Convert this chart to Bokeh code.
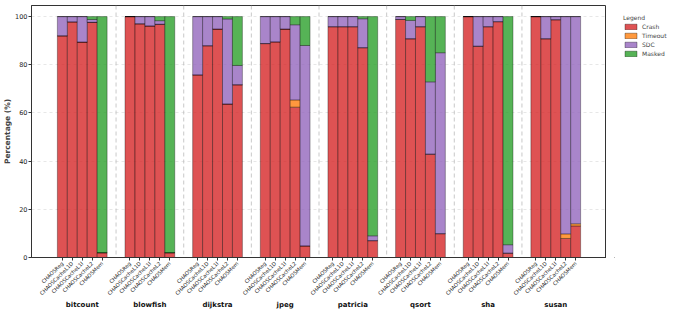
import math
from bokeh.plotting import figure
from bokeh.layouts import row
from bokeh.models import (ColumnDataSource, FixedTicker, LinearAxis, Range1d,
                          Span, Legend, LegendItem)
from bokeh.embed import file_html
from bokeh.resources import INLINE

benchmarks = ["bitcount", "blowfish", "dijkstra", "jpeg", "patricia", "qsort", "sha", "susan"]
configs = ["CHAOSReg", "CHAOSCacheL1D", "CHAOSCacheL1I", "CHAOSCacheL2", "CHAOSMem"]
outcomes = ["Crash", "Timeout", "SDC", "Masked"]

# values per benchmark (5 configs each), in percent
crash = [
    92.0, 97.8, 89.4, 97.6, 2.0,     # bitcount
    100.0, 97.0, 96.1, 96.8, 2.0,    # blowfish
    75.8, 87.9, 94.8, 63.7, 71.7,    # dijkstra
    88.8, 89.5, 94.8, 62.4, 4.8,     # jpeg
    95.8, 95.8, 95.8, 87.1, 7.0,     # patricia
    98.8, 90.8, 95.8, 42.9, 9.9,     # qsort
    100.0, 87.7, 95.8, 97.9, 1.8,    # sha
    100.0, 90.8, 98.7, 7.9, 13.1,    # susan
]
timeout = [
    0, 0, 0, 0, 0,
    0, 0, 0, 0, 0,
    0, 0, 0, 0, 0,
    0, 0, 0, 3.0, 0,
    0, 0, 0, 0, 0,
    0, 0, 0, 0, 0,
    0, 0, 0, 0, 0,
    0, 0, 0, 1.9, 0.9,
]
sdc = [
    8.0, 2.2, 10.6, 1.2, 0,
    0, 3.0, 3.9, 1.5, 0,
    24.2, 12.1, 5.2, 35.3, 8.0,
    11.2, 10.5, 5.2, 31.2, 83.2,
    4.2, 4.2, 4.2, 12.0, 2.0,
    1.2, 7.6, 4.2, 30.0, 75.1,
    0, 12.3, 4.2, 2.1, 3.5,
    0, 9.2, 1.3, 90.2, 86.0,
]
masked = [
    0, 0, 0, 1.2, 98.0,
    0, 0, 0, 1.7, 98.0,
    0, 0, 0, 1.0, 20.3,
    0, 0, 0, 3.4, 12.0,
    0, 0, 0, 0.9, 91.0,
    0, 1.6, 0, 27.1, 15.0,
    0, 0, 0, 0, 94.7,
    0, 0, 0, 0, 0,
]

colors = ["#d62728", "#ff7f0e", "#9467bd", "#2ca02c"]

# layout constants (x units == pixels of the frame)
BAR_W = 10
GAP = 18
PAD = 26
GROUP_W = BAR_W * len(configs) + GAP
FONT = "DejaVu Sans"
MAIN_W = 606
LEG_W = 64
H = 311

xs, labels = [], []
for g, b in enumerate(benchmarks):
    for j, c in enumerate(configs):
        xs.append(PAD + g * GROUP_W + j * BAR_W + BAR_W // 2)
        labels.append(c)
group_centers = [PAD + g * GROUP_W + (BAR_W * len(configs)) // 2 for g in range(len(benchmarks))]

source = ColumnDataSource(dict(x=xs, Crash=crash, Timeout=timeout, SDC=sdc, Masked=masked))

x_end = PAD * 2 + GROUP_W * len(benchmarks) - GAP
p = figure(width=MAIN_W, height=H, x_range=Range1d(0, x_end), y_range=Range1d(0, 104.6),
           output_backend="svg", toolbar_location=None, x_axis_location=None,
           min_border_top=5, min_border_left=0, min_border_bottom=0, min_border_right=0)

renderers = p.vbar_stack(outcomes, x="x", width=BAR_W, source=source,
                         fill_color=colors, fill_alpha=0.8,
                         line_color="black", line_width=0.6, line_alpha=0.55)

# separators
for g in range(1, len(benchmarks)):
    p.add_layout(Span(location=PAD + g * GROUP_W - GAP / 2, dimension="height",
                      line_color="#bbbbbb", line_dash="4 3", line_width=0.8))

p.xgrid.visible = False
p.ygrid.grid_line_color = "#dddddd"
p.ygrid.grid_line_dash = "3 3"
p.ygrid.grid_line_width = 0.7
p.outline_line_color = "#333333"
p.outline_line_width = 1
p.background_fill_color = "white"
p.border_fill_color = "white"

ya = p.yaxis[0]
ya.ticker = FixedTicker(ticks=[0, 20, 40, 60, 80, 100])
ya.axis_label = "Percentage (%)"
ya.axis_label_text_font = FONT
ya.axis_label_text_font_style = "bold"
ya.axis_label_text_font_size = "7.5px"
ya.axis_label_standoff = 0
ya.major_label_text_font = FONT
ya.major_label_text_font_size = "6.5px"
ya.major_label_text_color = "#222222"
ya.major_label_standoff = 1
ya.major_tick_out = 3
ya.major_tick_in = 0
ya.minor_tick_out = 0
ya.minor_tick_in = 0
ya.axis_line_color = "#333333"
ya.major_tick_line_color = "#333333"

xa = LinearAxis(ticker=FixedTicker(ticks=xs),
                major_label_overrides={x: l for x, l in zip(xs, labels)},
                major_label_orientation=math.pi / 4,
                major_label_text_font=FONT, major_label_text_font_size="5.2px",
                major_label_text_color="#222222", major_label_standoff=2,
                major_tick_out=3, major_tick_in=0, minor_tick_out=0, minor_tick_in=0,
                axis_line_color="#333333", major_tick_line_color="#333333")
p.add_layout(xa, "below")

ga = LinearAxis(ticker=FixedTicker(ticks=group_centers),
                major_label_overrides={x: b for x, b in zip(group_centers, benchmarks)},
                major_label_text_font=FONT, major_label_text_font_size="7px",
                major_label_text_font_style="bold", major_label_text_color="#111111",
                major_label_standoff=-1, major_tick_out=0, major_tick_in=0,
                minor_tick_out=0, minor_tick_in=0, axis_line_color=None)
p.add_layout(ga, "below")

# legend panel (legend-only swatches placed outside the visible range)
lf = figure(width=LEG_W, height=H, x_range=Range1d(0, 1), y_range=Range1d(0, 1),
            output_backend="svg", toolbar_location=None,
            min_border_left=8, min_border_right=0, min_border_top=0, min_border_bottom=0,
            outline_line_color=None)
lf.axis.visible = False
lf.grid.visible = False
leg_items = []
for o, c in zip(outcomes, colors):
    r = lf.vbar(x=[-5], top=[0], width=0.1, fill_color=c, fill_alpha=0.8,
                line_color="black", line_width=0.6, line_alpha=0.55)
    leg_items.append(LegendItem(label=o, renderers=[r]))
legend = Legend(items=leg_items, title="Legend", location="top_left")
legend.title_text_font = FONT
legend.title_text_font_size = "6px"
legend.title_text_font_style = "normal"
legend.title_standoff = 2
legend.label_text_font = FONT
legend.label_text_font_size = "6px"
legend.glyph_width = 15
legend.glyph_height = 7
legend.label_height = 7
legend.label_standoff = 4
legend.spacing = 2
legend.padding = 2
legend.margin = 7
legend.border_line_alpha = 0
legend.background_fill_alpha = 0
lf.add_layout(legend, "center")

open("out.html", "w").write(file_html(row(p, lf), INLINE))
